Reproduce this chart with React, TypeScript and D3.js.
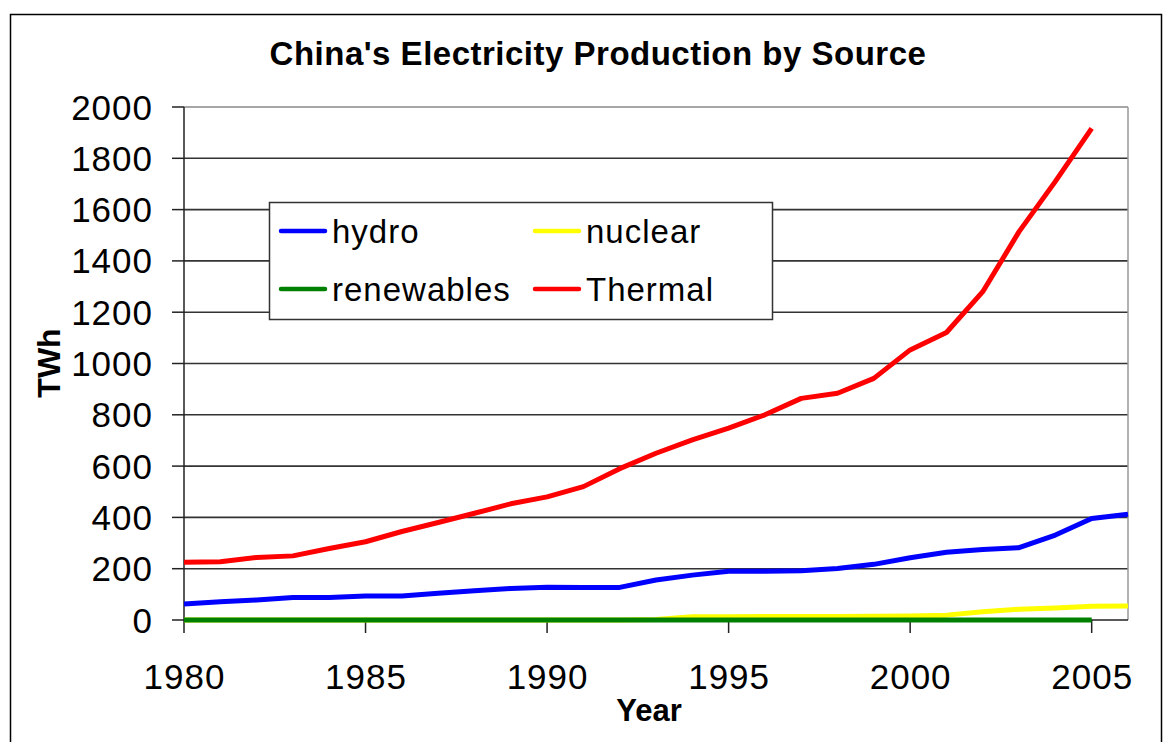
import React from "react";
import * as d3 from "d3";

const years = d3.range(1980, 2007);
const hydro = [62, 71, 78, 88, 88, 94, 94, 104, 114, 123, 128, 127, 127, 156, 175, 190, 190, 192, 201, 217, 243, 264, 275, 282, 331, 396, 412];
const nuclear = [0, 0, 0, 0, 0, 0, 0, 0, 0, 0, 0, 0, 0, 2, 13, 13, 14, 14, 14, 15, 16, 19, 32, 42, 47, 54, 55];
const renewables = [0, 0, 0, 0, 0, 0, 0, 0, 0, 0, 0, 0, 0, 0, 0, 0, 0, 0, 0, 0, 0, 0, 0, 0, 0, 0];
const thermal = [225, 227, 244, 250, 279, 305, 345, 380, 416, 453, 480, 520, 590, 650, 702, 748, 800, 864, 884, 942, 1053, 1121, 1280, 1514, 1710, 1917];
const yTicks = [0, 200, 400, 600, 800, 1000, 1200, 1400, 1600, 1800, 2000];
const xTicks = [1980, 1985, 1990, 1995, 2000, 2005];

const seriesList = [
  { name: "hydro", values: hydro, color: "#0000ff" },
  { name: "nuclear", values: nuclear, color: "#ffff00" },
  { name: "renewables", values: renewables, color: "#008000" },
  { name: "Thermal", values: thermal, color: "#ff0000" },
];
const drawOrder = ["nuclear", "renewables", "hydro", "Thermal"];

const FONT = "'Liberation Sans', Arial, Helvetica, sans-serif";

export default function App() {
  const left = 184, right = 1128, top = 107, bottom = 620;
  const x = d3.scaleLinear().domain([1980, 2006]).range([left, right]);
  const y = d3.scaleLinear().domain([0, 2000]).range([bottom, top]);
  const line = d3
    .line<number>()
    .x((_, i) => x(years[i]))
    .y((v) => y(v));

  const legendItems = [
    { name: "hydro", lx: 281, ly: 231 },
    { name: "nuclear", lx: 535, ly: 231 },
    { name: "renewables", lx: 281, ly: 289 },
    { name: "Thermal", lx: 535, ly: 289 },
  ];

  return (
    <svg width={1169} height={742} style={{ position: "absolute", left: 0, top: 0, background: "#fff" }} fontFamily={FONT}>
      <rect x={10.5} y={14.5} width={1151} height={760} fill="#fff" stroke="#000" strokeWidth={1.5} />
      <text x={598} y={65} textAnchor="middle" fontSize={33} fontWeight="bold" letterSpacing={0.5}>
        China's Electricity Production by Source
      </text>
      {/* gridlines */}
      {yTicks.filter((t) => t > 0 && t < 2000).map((t) => (
        <line key={t} x1={left} x2={right} y1={y(t)} y2={y(t)} stroke="#333" strokeWidth={1.6} />
      ))}
      {/* plot border top/right */}
      <line x1={left} x2={right} y1={top} y2={top} stroke="#888" strokeWidth={1.5} />
      <line x1={right} x2={right} y1={top} y2={bottom} stroke="#999" strokeWidth={1.5} />
      {/* axes */}
      <line x1={left} x2={left} y1={top} y2={bottom} stroke="#222" strokeWidth={1.5} />
      <line x1={left} x2={right} y1={bottom} y2={bottom} stroke="#222" strokeWidth={1.5} />
      {yTicks.map((t) => (
        <g key={t}>
          <line x1={172} x2={left} y1={y(t)} y2={y(t)} stroke="#222" strokeWidth={1.5} />
          <text x={153} y={y(t) + 12.5} textAnchor="end" fontSize={35} letterSpacing={1}>
            {t}
          </text>
        </g>
      ))}
      {xTicks.map((t) => (
        <g key={t}>
          <line x1={x(t)} x2={x(t)} y1={bottom} y2={633} stroke="#222" strokeWidth={1.5} />
          <text x={x(t) + 0.5} y={689} textAnchor="middle" fontSize={35} letterSpacing={1}>
            {t}
          </text>
        </g>
      ))}
      {/* series */}
      {drawOrder.map((n) => {
        const s = seriesList.find((d) => d.name === n)!;
        return (
          <path key={n} d={line(s.values) || ""} fill="none" stroke={s.color} strokeWidth={5} strokeLinejoin="round" />
        );
      })}
      {/* axis titles */}
      <text transform="translate(60,363) rotate(-90)" textAnchor="middle" fontSize={32} fontWeight="bold">
        TWh
      </text>
      <text x={649} y={721} textAnchor="middle" fontSize={31} fontWeight="bold">
        Year
      </text>
      {/* legend */}
      <rect x={269.5} y={202.5} width={503} height={117} fill="#fff" stroke="#333" strokeWidth={1.5} />
      {legendItems.map((it) => {
        const s = seriesList.find((d) => d.name === it.name)!;
        return (
          <g key={it.name}>
            <line x1={it.lx} x2={it.lx + 44} y1={it.ly} y2={it.ly} stroke={s.color} strokeWidth={4.5} strokeLinecap="round" />
            <text x={it.lx + 51} y={it.ly + 12} fontSize={33} letterSpacing={1}>
              {s.name}
            </text>
          </g>
        );
      })}
    </svg>
  );
}
